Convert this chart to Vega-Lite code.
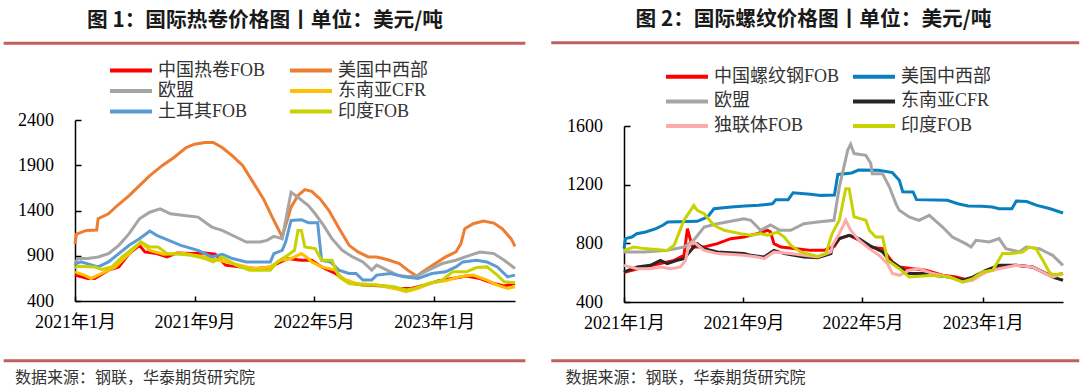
{
"$schema": "https://vega.github.io/schema/vega-lite/v6.json",
"background": "white",
"padding": {"left": 2, "top": 9, "right": 0, "bottom": 4},
"spacing": 22,
"config": {
  "view": {"stroke": null},
  "axis": {"grid": false, "domainColor": "#000", "tickColor": "#000", "labelColor": "#000", "labelFont": "Liberation Serif, Noto Sans CJK SC", "labelFontSize": 18, "domainWidth": 1.5, "tickWidth": 1.5},
  "title": {"font": "Noto Sans CJK SC", "fontSize": 20, "fontWeight": "bold", "color": "#1a1a1a", "offset": 10},
  "legend": {"orient": "none", "columns": 2, "symbolType": "stroke", "symbolSize": 1764, "symbolStrokeWidth": 4, "labelFont": "Liberation Serif, Noto Sans CJK SC", "labelFontSize": 18, "labelColor": "#333", "labelLimit": 400, "clipHeight": 18, "padding": 0, "labelOffset": 4}
},
"resolve": {"scale": {"color": "independent", "x": "independent", "y": "independent"}, "legend": {"color": "independent"}},
"datasets": {
"hrc": [
{"s":"中国热卷FOB","d":"2021/01/01","v":686},{"s":"中国热卷FOB","d":"2021/01/27","v":649},{"s":"中国热卷FOB","d":"2021/02/10","v":649},{"s":"中国热卷FOB","d":"2021/03/10","v":741},{"s":"中国热卷FOB","d":"2021/03/31","v":777},{"s":"中国热卷FOB","d":"2021/04/21","v":924},{"s":"中国热卷FOB","d":"2021/05/12","v":1015},{"s":"中国热卷FOB","d":"2021/05/23","v":942},{"s":"中国热卷FOB","d":"2021/06/16","v":924},{"s":"中国热卷FOB","d":"2021/07/07","v":887},{"s":"中国热卷FOB","d":"2021/07/28","v":931},{"s":"中国热卷FOB","d":"2021/08/25","v":924},{"s":"中国热卷FOB","d":"2021/09/22","v":931},{"s":"中国热卷FOB","d":"2021/10/13","v":917},{"s":"中国热卷FOB","d":"2021/11/03","v":796},{"s":"中国热卷FOB","d":"2021/12/01","v":777},{"s":"中国热卷FOB","d":"2022/01/05","v":759},{"s":"中国热卷FOB","d":"2022/02/02","v":777},{"s":"中国热卷FOB","d":"2022/02/23","v":832},{"s":"中国热卷FOB","d":"2022/03/09","v":869},{"s":"中国热卷FOB","d":"2022/04/06","v":850},{"s":"中国热卷FOB","d":"2022/04/27","v":850},{"s":"中国热卷FOB","d":"2022/05/17","v":777},{"s":"中国热卷FOB","d":"2022/06/14","v":704},{"s":"中国热卷FOB","d":"2022/07/12","v":601},{"s":"中国热卷FOB","d":"2022/08/09","v":576},{"s":"中国热卷FOB","d":"2022/09/20","v":565},{"s":"中国热卷FOB","d":"2022/10/18","v":539},{"s":"中国热卷FOB","d":"2022/11/15","v":539},{"s":"中国热卷FOB","d":"2022/12/13","v":576},{"s":"中国热卷FOB","d":"2023/01/10","v":623},{"s":"中国热卷FOB","d":"2023/02/07","v":649},{"s":"中国热卷FOB","d":"2023/03/07","v":675},{"s":"中国热卷FOB","d":"2023/04/04","v":649},{"s":"中国热卷FOB","d":"2023/05/02","v":594},{"s":"中国热卷FOB","d":"2023/05/23","v":565},{"s":"中国热卷FOB","d":"2023/06/14","v":594},
{"s":"美国中西部","d":"2021/01/01","v":1030},{"s":"美国中西部","d":"2021/01/04","v":1140},{"s":"美国中西部","d":"2021/01/24","v":1180},{"s":"美国中西部","d":"2021/02/14","v":1185},{"s":"美国中西部","d":"2021/02/17","v":1309},{"s":"美国中西部","d":"2021/03/10","v":1364},{"s":"美国中西部","d":"2021/03/28","v":1455},{"s":"美国中西部","d":"2021/04/21","v":1565},{"s":"美国中西部","d":"2021/05/12","v":1675},{"s":"美国中西部","d":"2021/06/02","v":1785},{"s":"美国中西部","d":"2021/06/27","v":1895},{"s":"美国中西部","d":"2021/07/21","v":1986},{"s":"美国中西部","d":"2021/08/15","v":2096},{"s":"美国中西部","d":"2021/09/01","v":2133},{"s":"美国中西部","d":"2021/09/22","v":2151},{"s":"美国中西部","d":"2021/10/09","v":2151},{"s":"美国中西部","d":"2021/10/27","v":2096},{"s":"美国中西部","d":"2021/11/17","v":2004},{"s":"美国中西部","d":"2021/12/08","v":1895},{"s":"美国中西部","d":"2021/12/29","v":1711},{"s":"美国中西部","d":"2022/01/19","v":1528},{"s":"美国中西部","d":"2022/02/09","v":1290},{"s":"美国中西部","d":"2022/02/26","v":1107},{"s":"美国中西部","d":"2022/03/16","v":1437},{"s":"美国中西部","d":"2022/03/30","v":1565},{"s":"美国中西部","d":"2022/04/13","v":1631},{"s":"美国中西部","d":"2022/04/27","v":1612},{"s":"美国中西部","d":"2022/05/14","v":1528},{"s":"美国中西部","d":"2022/06/01","v":1400},{"s":"美国中西部","d":"2022/06/22","v":1199},{"s":"美国中西部","d":"2022/07/12","v":1015},{"s":"美国中西部","d":"2022/07/30","v":942},{"s":"美国中西部","d":"2022/08/20","v":887},{"s":"美国中西部","d":"2022/09/06","v":887},{"s":"美国中西部","d":"2022/09/27","v":858},{"s":"美国中西部","d":"2022/10/22","v":814},{"s":"美国中西部","d":"2022/11/08","v":741},{"s":"美国中西部","d":"2022/11/26","v":675},{"s":"美国中西部","d":"2022/12/13","v":741},{"s":"美国中西部","d":"2023/01/03","v":814},{"s":"美国中西部","d":"2023/01/24","v":887},{"s":"美国中西部","d":"2023/02/14","v":942},{"s":"美国中西部","d":"2023/02/24","v":1034},{"s":"美国中西部","d":"2023/03/04","v":1199},{"s":"美国中西部","d":"2023/03/21","v":1254},{"s":"美国中西部","d":"2023/04/11","v":1283},{"s":"美国中西部","d":"2023/05/02","v":1261},{"s":"美国中西部","d":"2023/05/19","v":1199},{"s":"美国中西部","d":"2023/06/06","v":1089},{"s":"美国中西部","d":"2023/06/14","v":1004},
{"s":"欧盟","d":"2021/01/01","v":796},{"s":"欧盟","d":"2021/01/06","v":869},{"s":"欧盟","d":"2021/01/27","v":869},{"s":"欧盟","d":"2021/02/17","v":887},{"s":"欧盟","d":"2021/03/10","v":924},{"s":"欧盟","d":"2021/03/31","v":1015},{"s":"欧盟","d":"2021/04/21","v":1144},{"s":"欧盟","d":"2021/05/12","v":1309},{"s":"欧盟","d":"2021/06/02","v":1381},{"s":"欧盟","d":"2021/06/23","v":1419},{"s":"欧盟","d":"2021/07/14","v":1364},{"s":"欧盟","d":"2021/08/11","v":1345},{"s":"欧盟","d":"2021/09/08","v":1327},{"s":"欧盟","d":"2021/10/06","v":1217},{"s":"欧盟","d":"2021/10/27","v":1180},{"s":"欧盟","d":"2021/11/24","v":1107},{"s":"欧盟","d":"2021/12/15","v":1052},{"s":"欧盟","d":"2022/01/12","v":1052},{"s":"欧盟","d":"2022/01/26","v":1070},{"s":"欧盟","d":"2022/02/09","v":1114},{"s":"欧盟","d":"2022/02/26","v":1089},{"s":"欧盟","d":"2022/03/16","v":1601},{"s":"欧盟","d":"2022/03/30","v":1546},{"s":"欧盟","d":"2022/04/20","v":1455},{"s":"欧盟","d":"2022/05/04","v":1364},{"s":"欧盟","d":"2022/05/21","v":1235},{"s":"欧盟","d":"2022/06/07","v":1089},{"s":"欧盟","d":"2022/06/28","v":960},{"s":"欧盟","d":"2022/07/19","v":887},{"s":"欧盟","d":"2022/08/09","v":832},{"s":"欧盟","d":"2022/08/27","v":741},{"s":"欧盟","d":"2022/09/06","v":796},{"s":"欧盟","d":"2022/09/27","v":741},{"s":"欧盟","d":"2022/10/18","v":686},{"s":"欧盟","d":"2022/11/08","v":667},{"s":"欧盟","d":"2022/11/26","v":675},{"s":"欧盟","d":"2022/12/20","v":741},{"s":"欧盟","d":"2023/01/17","v":814},{"s":"欧盟","d":"2023/02/14","v":850},{"s":"欧盟","d":"2023/03/14","v":905},{"s":"欧盟","d":"2023/04/04","v":942},{"s":"欧盟","d":"2023/05/02","v":924},{"s":"欧盟","d":"2023/05/23","v":850},{"s":"欧盟","d":"2023/06/14","v":759},
{"s":"东南亚CFR","d":"2021/01/01","v":722},{"s":"东南亚CFR","d":"2021/01/20","v":686},{"s":"东南亚CFR","d":"2021/02/03","v":649},{"s":"东南亚CFR","d":"2021/02/24","v":704},{"s":"东南亚CFR","d":"2021/03/24","v":777},{"s":"东南亚CFR","d":"2021/04/21","v":924},{"s":"东南亚CFR","d":"2021/05/15","v":1052},{"s":"东南亚CFR","d":"2021/06/02","v":960},{"s":"东南亚CFR","d":"2021/06/30","v":917},{"s":"东南亚CFR","d":"2021/08/11","v":924},{"s":"东南亚CFR","d":"2021/09/22","v":887},{"s":"东南亚CFR","d":"2021/10/20","v":850},{"s":"东南亚CFR","d":"2021/11/17","v":814},{"s":"东南亚CFR","d":"2021/12/29","v":759},{"s":"东南亚CFR","d":"2022/02/02","v":777},{"s":"东南亚CFR","d":"2022/02/23","v":850},{"s":"东南亚CFR","d":"2022/03/16","v":869},{"s":"东南亚CFR","d":"2022/04/06","v":924},{"s":"东南亚CFR","d":"2022/04/16","v":887},{"s":"东南亚CFR","d":"2022/04/27","v":832},{"s":"东南亚CFR","d":"2022/05/17","v":777},{"s":"东南亚CFR","d":"2022/06/14","v":741},{"s":"东南亚CFR","d":"2022/06/28","v":649},{"s":"东南亚CFR","d":"2022/07/26","v":594},{"s":"东南亚CFR","d":"2022/09/06","v":576},{"s":"东南亚CFR","d":"2022/10/11","v":539},{"s":"东南亚CFR","d":"2022/11/05","v":502},{"s":"东南亚CFR","d":"2022/11/29","v":539},{"s":"东南亚CFR","d":"2022/12/27","v":601},{"s":"东南亚CFR","d":"2023/01/24","v":623},{"s":"东南亚CFR","d":"2023/02/21","v":667},{"s":"东南亚CFR","d":"2023/03/21","v":686},{"s":"东南亚CFR","d":"2023/04/18","v":631},{"s":"东南亚CFR","d":"2023/05/09","v":576},{"s":"东南亚CFR","d":"2023/05/30","v":539},{"s":"东南亚CFR","d":"2023/06/14","v":557},
{"s":"土耳其FOB","d":"2021/01/01","v":807},{"s":"土耳其FOB","d":"2021/01/13","v":832},{"s":"土耳其FOB","d":"2021/02/17","v":777},{"s":"土耳其FOB","d":"2021/03/10","v":832},{"s":"土耳其FOB","d":"2021/03/31","v":924},{"s":"土耳其FOB","d":"2021/04/21","v":1015},{"s":"土耳其FOB","d":"2021/05/12","v":1089},{"s":"土耳其FOB","d":"2021/06/02","v":1173},{"s":"土耳其FOB","d":"2021/06/16","v":1125},{"s":"土耳其FOB","d":"2021/07/07","v":1078},{"s":"土耳其FOB","d":"2021/08/04","v":1015},{"s":"土耳其FOB","d":"2021/09/08","v":960},{"s":"土耳其FOB","d":"2021/10/06","v":887},{"s":"土耳其FOB","d":"2021/10/27","v":917},{"s":"土耳其FOB","d":"2021/11/17","v":869},{"s":"土耳其FOB","d":"2021/12/15","v":832},{"s":"土耳其FOB","d":"2022/02/02","v":832},{"s":"土耳其FOB","d":"2022/02/09","v":924},{"s":"土耳其FOB","d":"2022/02/26","v":960},{"s":"土耳其FOB","d":"2022/03/05","v":1052},{"s":"土耳其FOB","d":"2022/03/16","v":1290},{"s":"土耳其FOB","d":"2022/04/06","v":1298},{"s":"土耳其FOB","d":"2022/04/20","v":1265},{"s":"土耳其FOB","d":"2022/05/09","v":1265},{"s":"土耳其FOB","d":"2022/05/17","v":850},{"s":"土耳其FOB","d":"2022/06/04","v":832},{"s":"土耳其FOB","d":"2022/06/21","v":741},{"s":"土耳其FOB","d":"2022/07/12","v":704},{"s":"土耳其FOB","d":"2022/07/26","v":704},{"s":"土耳其FOB","d":"2022/08/09","v":631},{"s":"土耳其FOB","d":"2022/08/27","v":631},{"s":"土耳其FOB","d":"2022/09/06","v":686},{"s":"土耳其FOB","d":"2022/10/04","v":704},{"s":"土耳其FOB","d":"2022/11/01","v":667},{"s":"土耳其FOB","d":"2022/11/29","v":649},{"s":"土耳其FOB","d":"2022/12/27","v":704},{"s":"土耳其FOB","d":"2023/01/24","v":722},{"s":"土耳其FOB","d":"2023/02/14","v":777},{"s":"土耳其FOB","d":"2023/02/28","v":832},{"s":"土耳其FOB","d":"2023/03/28","v":850},{"s":"土耳其FOB","d":"2023/04/18","v":832},{"s":"土耳其FOB","d":"2023/05/09","v":777},{"s":"土耳其FOB","d":"2023/05/30","v":667},{"s":"土耳其FOB","d":"2023/06/14","v":686},
{"s":"印度FOB","d":"2021/01/01","v":759},{"s":"印度FOB","d":"2021/01/06","v":785},{"s":"印度FOB","d":"2021/02/10","v":777},{"s":"印度FOB","d":"2021/02/24","v":748},{"s":"印度FOB","d":"2021/03/17","v":777},{"s":"印度FOB","d":"2021/04/07","v":887},{"s":"印度FOB","d":"2021/04/28","v":979},{"s":"印度FOB","d":"2021/05/15","v":1052},{"s":"印度FOB","d":"2021/06/02","v":997},{"s":"印度FOB","d":"2021/06/19","v":997},{"s":"印度FOB","d":"2021/07/07","v":924},{"s":"印度FOB","d":"2021/08/04","v":917},{"s":"印度FOB","d":"2021/08/25","v":905},{"s":"印度FOB","d":"2021/09/22","v":869},{"s":"印度FOB","d":"2021/10/09","v":832},{"s":"印度FOB","d":"2021/10/27","v":887},{"s":"印度FOB","d":"2021/11/24","v":796},{"s":"印度FOB","d":"2021/12/22","v":741},{"s":"印度FOB","d":"2022/02/02","v":741},{"s":"印度FOB","d":"2022/02/16","v":832},{"s":"印度FOB","d":"2022/03/09","v":905},{"s":"印度FOB","d":"2022/03/23","v":960},{"s":"印度FOB","d":"2022/03/30","v":1180},{"s":"印度FOB","d":"2022/04/06","v":1180},{"s":"印度FOB","d":"2022/04/13","v":997},{"s":"印度FOB","d":"2022/05/04","v":979},{"s":"印度FOB","d":"2022/05/17","v":850},{"s":"印度FOB","d":"2022/06/07","v":850},{"s":"印度FOB","d":"2022/06/21","v":667},{"s":"印度FOB","d":"2022/07/12","v":594},{"s":"印度FOB","d":"2022/08/09","v":576},{"s":"印度FOB","d":"2022/09/06","v":576},{"s":"印度FOB","d":"2022/10/11","v":557},{"s":"印度FOB","d":"2022/11/05","v":521},{"s":"印度FOB","d":"2022/11/22","v":539},{"s":"印度FOB","d":"2022/12/20","v":594},{"s":"印度FOB","d":"2023/01/17","v":631},{"s":"印度FOB","d":"2023/02/07","v":722},{"s":"印度FOB","d":"2023/03/07","v":722},{"s":"印度FOB","d":"2023/03/28","v":770},{"s":"印度FOB","d":"2023/04/18","v":777},{"s":"印度FOB","d":"2023/05/09","v":686},{"s":"印度FOB","d":"2023/05/23","v":612},{"s":"印度FOB","d":"2023/06/14","v":601}
],
"rebar": [
{"s":"中国螺纹钢FOB","d":"2021/01/01","v":600},{"s":"中国螺纹钢FOB","d":"2021/01/04","v":605},{"s":"中国螺纹钢FOB","d":"2021/02/11","v":639},{"s":"中国螺纹钢FOB","d":"2021/03/16","v":662},{"s":"中国螺纹钢FOB","d":"2021/04/13","v":684},{"s":"中国螺纹钢FOB","d":"2021/05/03","v":718},{"s":"中国螺纹钢FOB","d":"2021/05/10","v":900},{"s":"中国螺纹钢FOB","d":"2021/05/20","v":775},{"s":"中国螺纹钢FOB","d":"2021/06/13","v":775},{"s":"中国螺纹钢FOB","d":"2021/07/10","v":798},{"s":"中国螺纹钢FOB","d":"2021/08/06","v":832},{"s":"中国螺纹钢FOB","d":"2021/09/02","v":843},{"s":"中国螺纹钢FOB","d":"2021/09/29","v":866},{"s":"中国螺纹钢FOB","d":"2021/10/20","v":889},{"s":"中国螺纹钢FOB","d":"2021/10/26","v":877},{"s":"中国螺纹钢FOB","d":"2021/11/02","v":798},{"s":"中国螺纹钢FOB","d":"2021/11/16","v":775},{"s":"中国螺纹钢FOB","d":"2021/12/13","v":764},{"s":"中国螺纹钢FOB","d":"2022/01/16","v":752},{"s":"中国螺纹钢FOB","d":"2022/02/12","v":752},{"s":"中国螺纹钢FOB","d":"2022/03/05","v":780},{"s":"中国螺纹钢FOB","d":"2022/03/15","v":832},{"s":"中国螺纹钢FOB","d":"2022/04/04","v":855},{"s":"中国螺纹钢FOB","d":"2022/04/24","v":821},{"s":"中国螺纹钢FOB","d":"2022/05/15","v":775},{"s":"中国螺纹钢FOB","d":"2022/06/11","v":764},{"s":"中国螺纹钢FOB","d":"2022/06/18","v":730},{"s":"中国螺纹钢FOB","d":"2022/07/01","v":673},{"s":"中国螺纹钢FOB","d":"2022/07/15","v":639},{"s":"中国螺纹钢FOB","d":"2022/08/11","v":627},{"s":"中国螺纹钢FOB","d":"2022/09/07","v":616},{"s":"中国螺纹钢FOB","d":"2022/10/11","v":582},{"s":"中国螺纹钢FOB","d":"2022/11/07","v":570},{"s":"中国螺纹钢FOB","d":"2022/11/27","v":553},{"s":"中国螺纹钢FOB","d":"2022/12/18","v":570},{"s":"中国螺纹钢FOB","d":"2023/01/07","v":605},{"s":"中国螺纹钢FOB","d":"2023/02/03","v":639},{"s":"中国螺纹钢FOB","d":"2023/03/09","v":650},{"s":"中国螺纹钢FOB","d":"2023/04/12","v":639},{"s":"中国螺纹钢FOB","d":"2023/05/09","v":594},{"s":"中国螺纹钢FOB","d":"2023/05/23","v":582},{"s":"中国螺纹钢FOB","d":"2023/06/13","v":593},
{"s":"美国中西部","d":"2021/01/01","v":764},{"s":"美国中西部","d":"2021/01/04","v":832},{"s":"美国中西部","d":"2021/01/17","v":843},{"s":"美国中西部","d":"2021/01/27","v":866},{"s":"美国中西部","d":"2021/02/14","v":877},{"s":"美国中西部","d":"2021/03/07","v":900},{"s":"美国中西部","d":"2021/03/21","v":923},{"s":"美国中西部","d":"2021/03/31","v":945},{"s":"美国中西部","d":"2021/05/30","v":950},{"s":"美国中西部","d":"2021/06/20","v":980},{"s":"美国中西部","d":"2021/07/03","v":1036},{"s":"美国中西部","d":"2021/08/07","v":1048},{"s":"美国中西部","d":"2021/09/04","v":1055},{"s":"美国中西部","d":"2021/10/02","v":1059},{"s":"美国中西部","d":"2021/10/30","v":1070},{"s":"美国中西部","d":"2021/11/06","v":1098},{"s":"美国中西部","d":"2021/12/01","v":1098},{"s":"美国中西部","d":"2021/12/11","v":1145},{"s":"美国中西部","d":"2022/01/15","v":1134},{"s":"美国中西部","d":"2022/02/05","v":1127},{"s":"美国中西部","d":"2022/03/05","v":1130},{"s":"美国中西部","d":"2022/03/12","v":1270},{"s":"美国中西部","d":"2022/04/09","v":1280},{"s":"美国中西部","d":"2022/04/23","v":1300},{"s":"美国中西部","d":"2022/06/03","v":1298},{"s":"美国中西部","d":"2022/07/01","v":1282},{"s":"美国中西部","d":"2022/07/15","v":1230},{"s":"美国中西部","d":"2022/07/22","v":1152},{"s":"美国中西部","d":"2022/08/12","v":1150},{"s":"美国中西部","d":"2022/08/19","v":1098},{"s":"美国中西部","d":"2022/10/21","v":1093},{"s":"美国中西部","d":"2022/11/11","v":1070},{"s":"美国中西部","d":"2022/12/02","v":1055},{"s":"美国中西部","d":"2022/12/30","v":1052},{"s":"美国中西部","d":"2023/01/20","v":1048},{"s":"美国中西部","d":"2023/02/03","v":1036},{"s":"美国中西部","d":"2023/03/01","v":1036},{"s":"美国中西部","d":"2023/03/10","v":1089},{"s":"美国中西部","d":"2023/03/31","v":1085},{"s":"美国中西部","d":"2023/04/21","v":1059},{"s":"美国中西部","d":"2023/05/18","v":1036},{"s":"美国中西部","d":"2023/06/13","v":1007},
{"s":"欧盟","d":"2021/01/01","v":741},{"s":"欧盟","d":"2021/02/11","v":741},{"s":"欧盟","d":"2021/03/30","v":752},{"s":"欧盟","d":"2021/05/03","v":775},{"s":"欧盟","d":"2021/05/23","v":821},{"s":"欧盟","d":"2021/06/13","v":911},{"s":"欧盟","d":"2021/07/10","v":934},{"s":"欧盟","d":"2021/09/02","v":968},{"s":"欧盟","d":"2021/09/16","v":957},{"s":"欧盟","d":"2021/10/06","v":889},{"s":"欧盟","d":"2021/10/26","v":925},{"s":"欧盟","d":"2021/11/14","v":889},{"s":"欧盟","d":"2021/12/06","v":889},{"s":"欧盟","d":"2022/01/02","v":934},{"s":"欧盟","d":"2022/01/30","v":945},{"s":"欧盟","d":"2022/03/04","v":957},{"s":"欧盟","d":"2022/03/15","v":1184},{"s":"欧盟","d":"2022/04/01","v":1434},{"s":"欧盟","d":"2022/04/07","v":1475},{"s":"欧盟","d":"2022/04/14","v":1412},{"s":"欧盟","d":"2022/05/08","v":1400},{"s":"欧盟","d":"2022/05/18","v":1344},{"s":"欧盟","d":"2022/05/21","v":1275},{"s":"欧盟","d":"2022/06/11","v":1275},{"s":"欧盟","d":"2022/06/25","v":1184},{"s":"欧盟","d":"2022/07/08","v":1071},{"s":"欧盟","d":"2022/07/15","v":1025},{"s":"欧盟","d":"2022/08/04","v":980},{"s":"欧盟","d":"2022/08/24","v":957},{"s":"欧盟","d":"2022/09/14","v":991},{"s":"欧盟","d":"2022/10/11","v":911},{"s":"欧盟","d":"2022/10/31","v":843},{"s":"欧盟","d":"2022/11/27","v":798},{"s":"欧盟","d":"2022/12/08","v":775},{"s":"欧盟","d":"2022/12/18","v":821},{"s":"欧盟","d":"2023/01/14","v":809},{"s":"欧盟","d":"2023/02/03","v":832},{"s":"欧盟","d":"2023/02/17","v":764},{"s":"欧盟","d":"2023/03/16","v":741},{"s":"欧盟","d":"2023/03/30","v":775},{"s":"欧盟","d":"2023/04/26","v":764},{"s":"欧盟","d":"2023/05/09","v":741},{"s":"欧盟","d":"2023/05/23","v":718},{"s":"欧盟","d":"2023/06/13","v":650},
{"s":"东南亚CFR","d":"2021/01/01","v":605},{"s":"东南亚CFR","d":"2021/01/28","v":639},{"s":"东南亚CFR","d":"2021/02/24","v":650},{"s":"东南亚CFR","d":"2021/03/16","v":684},{"s":"东南亚CFR","d":"2021/03/30","v":662},{"s":"东南亚CFR","d":"2021/04/19","v":684},{"s":"东南亚CFR","d":"2021/05/03","v":696},{"s":"东南亚CFR","d":"2021/05/20","v":764},{"s":"东南亚CFR","d":"2021/05/30","v":798},{"s":"东南亚CFR","d":"2021/06/13","v":764},{"s":"东南亚CFR","d":"2021/07/10","v":741},{"s":"东南亚CFR","d":"2021/09/02","v":730},{"s":"东南亚CFR","d":"2021/09/16","v":718},{"s":"东南亚CFR","d":"2021/10/13","v":707},{"s":"东南亚CFR","d":"2021/11/02","v":752},{"s":"东南亚CFR","d":"2021/11/23","v":730},{"s":"东南亚CFR","d":"2022/01/02","v":707},{"s":"东南亚CFR","d":"2022/01/30","v":702},{"s":"东南亚CFR","d":"2022/02/26","v":730},{"s":"东南亚CFR","d":"2022/03/01","v":775},{"s":"东南亚CFR","d":"2022/03/15","v":832},{"s":"东南亚CFR","d":"2022/04/04","v":855},{"s":"东南亚CFR","d":"2022/04/24","v":832},{"s":"东南亚CFR","d":"2022/05/15","v":787},{"s":"东南亚CFR","d":"2022/06/11","v":741},{"s":"东南亚CFR","d":"2022/06/25","v":684},{"s":"东南亚CFR","d":"2022/07/15","v":639},{"s":"东南亚CFR","d":"2022/08/04","v":594},{"s":"东南亚CFR","d":"2022/08/31","v":594},{"s":"东南亚CFR","d":"2022/09/21","v":582},{"s":"东南亚CFR","d":"2022/10/25","v":570},{"s":"东南亚CFR","d":"2022/11/21","v":548},{"s":"东南亚CFR","d":"2022/12/11","v":570},{"s":"东南亚CFR","d":"2023/01/07","v":616},{"s":"东南亚CFR","d":"2023/02/03","v":650},{"s":"东南亚CFR","d":"2023/03/09","v":650},{"s":"东南亚CFR","d":"2023/04/12","v":639},{"s":"东南亚CFR","d":"2023/05/03","v":605},{"s":"东南亚CFR","d":"2023/05/23","v":570},{"s":"东南亚CFR","d":"2023/06/13","v":548},
{"s":"独联体FOB","d":"2021/01/01","v":650},{"s":"独联体FOB","d":"2021/01/28","v":627},{"s":"独联体FOB","d":"2021/02/24","v":627},{"s":"独联体FOB","d":"2021/03/16","v":639},{"s":"独联体FOB","d":"2021/04/06","v":627},{"s":"独联体FOB","d":"2021/04/26","v":639},{"s":"独联体FOB","d":"2021/05/06","v":684},{"s":"独联体FOB","d":"2021/05/13","v":787},{"s":"独联体FOB","d":"2021/05/23","v":809},{"s":"独联体FOB","d":"2021/06/13","v":752},{"s":"独联体FOB","d":"2021/07/10","v":730},{"s":"独联体FOB","d":"2021/09/02","v":718},{"s":"独联体FOB","d":"2021/09/29","v":707},{"s":"独联体FOB","d":"2021/10/13","v":696},{"s":"独联体FOB","d":"2021/11/02","v":741},{"s":"独联体FOB","d":"2021/12/06","v":730},{"s":"独联体FOB","d":"2022/01/30","v":707},{"s":"独联体FOB","d":"2022/02/26","v":741},{"s":"独联体FOB","d":"2022/03/01","v":787},{"s":"独联体FOB","d":"2022/03/15","v":866},{"s":"独联体FOB","d":"2022/03/28","v":957},{"s":"独联体FOB","d":"2022/04/07","v":889},{"s":"独联体FOB","d":"2022/04/24","v":821},{"s":"独联体FOB","d":"2022/05/15","v":764},{"s":"独联体FOB","d":"2022/06/04","v":718},{"s":"独联体FOB","d":"2022/06/21","v":662},{"s":"独联体FOB","d":"2022/07/01","v":594},{"s":"独联体FOB","d":"2022/07/15","v":582},{"s":"独联体FOB","d":"2022/08/04","v":616},{"s":"独联体FOB","d":"2022/08/25","v":627},{"s":"独联体FOB","d":"2022/09/21","v":594},{"s":"独联体FOB","d":"2022/10/25","v":570},{"s":"独联体FOB","d":"2022/11/21","v":536},{"s":"独联体FOB","d":"2022/12/11","v":548},{"s":"独联体FOB","d":"2023/01/07","v":605},{"s":"独联体FOB","d":"2023/02/03","v":627},{"s":"独联体FOB","d":"2023/03/09","v":650},{"s":"独联体FOB","d":"2023/04/12","v":639},{"s":"独联体FOB","d":"2023/05/09","v":594},{"s":"独联体FOB","d":"2023/05/23","v":570},{"s":"独联体FOB","d":"2023/06/13","v":593},
{"s":"印度FOB","d":"2021/01/01","v":752},{"s":"印度FOB","d":"2021/01/21","v":775},{"s":"印度FOB","d":"2021/02/11","v":764},{"s":"印度FOB","d":"2021/03/30","v":752},{"s":"印度FOB","d":"2021/04/13","v":787},{"s":"印度FOB","d":"2021/05/03","v":957},{"s":"印度FOB","d":"2021/05/23","v":1059},{"s":"印度FOB","d":"2021/05/30","v":1025},{"s":"印度FOB","d":"2021/06/13","v":1002},{"s":"印度FOB","d":"2021/07/03","v":923},{"s":"印度FOB","d":"2021/07/24","v":889},{"s":"印度FOB","d":"2021/08/26","v":866},{"s":"印度FOB","d":"2021/09/16","v":855},{"s":"印度FOB","d":"2021/10/06","v":866},{"s":"印度FOB","d":"2021/10/20","v":855},{"s":"印度FOB","d":"2021/11/09","v":877},{"s":"印度FOB","d":"2021/11/23","v":843},{"s":"印度FOB","d":"2021/12/06","v":787},{"s":"印度FOB","d":"2021/12/26","v":741},{"s":"印度FOB","d":"2022/01/30","v":711},{"s":"印度FOB","d":"2022/02/16","v":730},{"s":"印度FOB","d":"2022/02/26","v":843},{"s":"印度FOB","d":"2022/03/01","v":870},{"s":"印度FOB","d":"2022/03/15","v":957},{"s":"印度FOB","d":"2022/03/28","v":1173},{"s":"印度FOB","d":"2022/04/04","v":1173},{"s":"印度FOB","d":"2022/04/14","v":980},{"s":"印度FOB","d":"2022/05/08","v":957},{"s":"印度FOB","d":"2022/05/15","v":889},{"s":"印度FOB","d":"2022/05/28","v":843},{"s":"印度FOB","d":"2022/06/11","v":843},{"s":"印度FOB","d":"2022/06/21","v":684},{"s":"印度FOB","d":"2022/07/15","v":627},{"s":"印度FOB","d":"2022/08/04","v":570},{"s":"印度FOB","d":"2022/08/25","v":575},{"s":"印度FOB","d":"2022/09/21","v":582},{"s":"印度FOB","d":"2022/10/25","v":570},{"s":"印度FOB","d":"2022/11/21","v":536},{"s":"印度FOB","d":"2022/12/11","v":559},{"s":"印度FOB","d":"2022/12/31","v":605},{"s":"印度FOB","d":"2023/01/21","v":616},{"s":"印度FOB","d":"2023/02/10","v":730},{"s":"印度FOB","d":"2023/03/02","v":730},{"s":"印度FOB","d":"2023/03/23","v":741},{"s":"印度FOB","d":"2023/04/05","v":775},{"s":"印度FOB","d":"2023/04/19","v":764},{"s":"印度FOB","d":"2023/05/03","v":684},{"s":"印度FOB","d":"2023/05/16","v":605},{"s":"印度FOB","d":"2023/05/23","v":585},{"s":"印度FOB","d":"2023/06/13","v":593}
]
},
"hconcat": [
{
  "width": 440, "height": 181,
  "title": {"text": "图 1：国际热卷价格图丨单位：美元/吨", "fontSize": 20.7, "fontWeight": "bold", "font": "Noto Sans CJK SC", "frame": "group", "anchor": "middle", "dx": -30, "offset": 10},
  "layer": [
    {
      "data": {"name": "hrc"},
      "mark": {"type": "line", "strokeWidth": 3},
      "encoding": {
        "x": {"field": "d", "type": "temporal", "scale": {"domain": [{"year": 2021, "month": 1, "date": 1}, {"year": 2023, "month": 6, "date": 14}]},
          "axis": {"values": [{"year": 2021, "month": 1, "date": 1}, {"year": 2021, "month": 9, "date": 1}, {"year": 2022, "month": 5, "date": 1}, {"year": 2023, "month": 1, "date": 1}], "format": "%Y年%-m月", "labelFlush": false, "labelOverlap": false, "labelBound": false, "tickSize": -5, "labelPadding": 17,
            "title": "数据来源：钢联，华泰期货研究院", "titleFont": "Noto Sans CJK SC", "titleFontSize": 16, "titleFontWeight": "normal", "titleColor": "#333", "titleAlign": "left", "titleAnchor": "start", "titleBaseline": "middle", "titleX": -60.5, "titleY": 76}},
        "y": {"field": "v", "type": "quantitative", "scale": {"domain": [400, 2400]}, "axis": {"values": [400, 900, 1400, 1900, 2400], "format": "d", "tickSize": -6, "labelPadding": 27.5, "title": null}},
        "color": {"field": "s", "type": "nominal",
          "scale": {"domain": ["中国热卷FOB", "欧盟", "土耳其FOB", "美国中西部", "东南亚CFR", "印度FOB"], "range": ["#FF0000", "#A5A5A5", "#5B9BD5", "#ED7D31", "#FFC000", "#C8D200"]},
          "legend": {"title": null, "legendX": 33, "legendY": -58.5, "columnPadding": 22, "rowPadding": 2.5}}
      }
    },
    {
      "data": {"values": [{}]},
      "mark": {"type": "rule", "strokeWidth": 3, "color": "#C0605E", "clip": false},
      "encoding": {"x": {"datum": {"year": 2020, "month": 8, "date": 9}, "type": "temporal"}, "x2": {"datum": {"year": 2023, "month": 7, "date": 5}}, "y": {"datum": 3247, "type": "quantitative"}}
    },
    {
      "data": {"values": [{}]},
      "mark": {"type": "rule", "strokeWidth": 3, "color": "#C0605E", "clip": false},
      "encoding": {"x": {"datum": {"year": 2020, "month": 8, "date": 9}, "type": "temporal"}, "x2": {"datum": {"year": 2023, "month": 7, "date": 5}}, "y": {"datum": -260, "type": "quantitative"}}
    }
  ]
},
{
  "width": 439, "height": 182,
  "title": {"text": "图 2：国际螺纹价格图丨单位：美元/吨", "fontSize": 20.7, "fontWeight": "bold", "font": "Noto Sans CJK SC", "frame": "group", "anchor": "middle", "dx": -30, "offset": 10},
  "layer": [
    {
      "data": {"name": "rebar"},
      "mark": {"type": "line", "strokeWidth": 3},
      "encoding": {
        "x": {"field": "d", "type": "temporal", "scale": {"domain": [{"year": 2021, "month": 1, "date": 1}, {"year": 2023, "month": 6, "date": 13}]},
          "axis": {"values": [{"year": 2021, "month": 1, "date": 1}, {"year": 2021, "month": 9, "date": 1}, {"year": 2022, "month": 5, "date": 1}, {"year": 2023, "month": 1, "date": 1}], "format": "%Y年%-m月", "labelFlush": false, "labelOverlap": false, "labelBound": false, "tickSize": -5, "labelPadding": 17,
            "title": "数据来源：钢联，华泰期货研究院", "titleFont": "Noto Sans CJK SC", "titleFontSize": 16, "titleFontWeight": "normal", "titleColor": "#333", "titleAlign": "left", "titleAnchor": "start", "titleBaseline": "middle", "titleX": -59, "titleY": 75}},
        "y": {"field": "v", "type": "quantitative", "scale": {"domain": [400, 1600], "range": [182, 6]}, "axis": {"values": [400, 800, 1200, 1600], "format": "d", "tickSize": -6, "labelPadding": 27.5, "title": null}},
        "color": {"field": "s", "type": "nominal",
          "scale": {"domain": ["中国螺纹钢FOB", "欧盟", "独联体FOB", "美国中西部", "东南亚CFR", "印度FOB"], "range": ["#FF0000", "#A5A5A5", "#FFAAAA", "#0A7FBF", "#262626", "#C8D200"]},
          "legend": {"title": null, "legendX": 40, "legendY": -52.2, "columnPadding": 11, "rowPadding": 6.6}}
      }
    },
    {
      "data": {"values": [{}]},
      "mark": {"type": "rule", "strokeWidth": 3, "color": "#C0605E", "clip": false},
      "encoding": {"x": {"datum": {"year": 2020, "month": 8, "date": 6}, "type": "temporal"}, "x2": {"datum": {"year": 2023, "month": 7, "date": 16}}, "y": {"datum": 2168, "type": "quantitative"}}
    },
    {
      "data": {"values": [{}]},
      "mark": {"type": "rule", "strokeWidth": 3, "color": "#C0605E", "clip": false},
      "encoding": {"x": {"datum": {"year": 2020, "month": 8, "date": 6}, "type": "temporal"}, "x2": {"datum": {"year": 2023, "month": 7, "date": 16}}, "y": {"datum": -1, "type": "quantitative"}}
    }
  ]
}
]
}
